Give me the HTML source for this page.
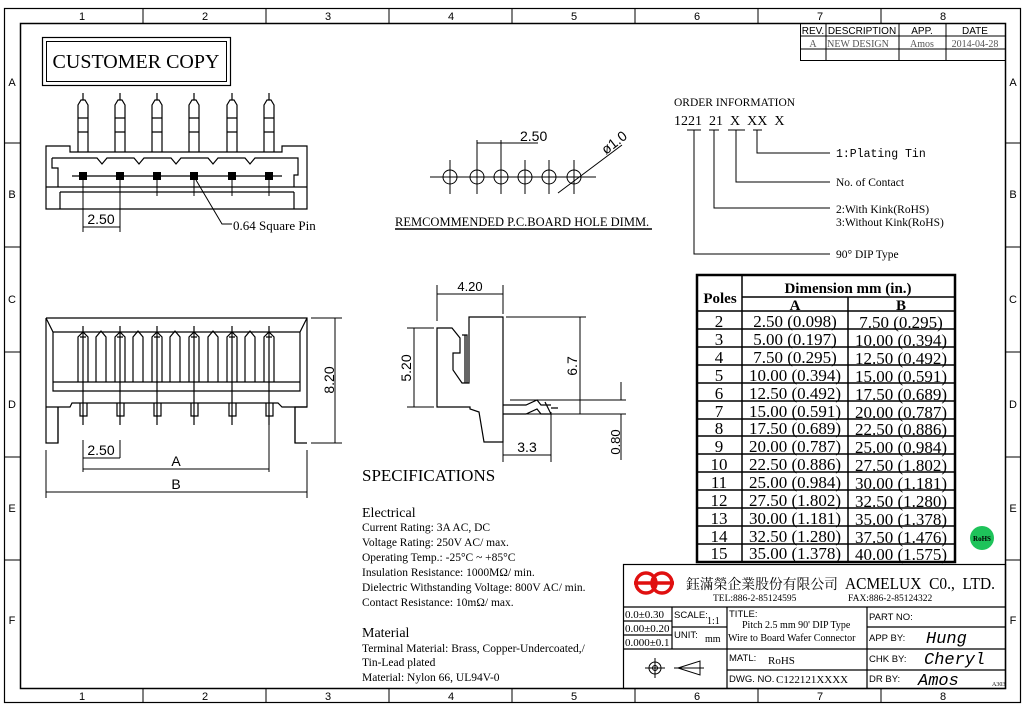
<!DOCTYPE html>
<html><head><meta charset="utf-8"><style>
body{margin:0;background:#fff}
svg{display:block}
.s{font-family:"Liberation Sans",sans-serif}
.r{font-family:"Liberation Serif","Noto Serif CJK SC",serif}
.m{font-family:"Liberation Mono",monospace}
</style></head><body>
<svg width="1024" height="706" viewBox="0 0 1024 706" xmlns="http://www.w3.org/2000/svg" fill="none" stroke="#000" stroke-width="1">
<!-- frame -->
<rect x="4.5" y="8.5" width="1016" height="694" stroke-width="1.2"/>
<rect x="20.5" y="23.5" width="985" height="665" stroke-width="1.5"/>
<g stroke-width="1">
<line x1="143" y1="8" x2="143" y2="23"/><line x1="266" y1="8" x2="266" y2="23"/><line x1="389" y1="8" x2="389" y2="23"/><line x1="512" y1="8" x2="512" y2="23"/><line x1="635" y1="8" x2="635" y2="23"/><line x1="758" y1="8" x2="758" y2="23"/><line x1="881" y1="8" x2="881" y2="23"/>
<line x1="143" y1="688" x2="143" y2="702"/><line x1="266" y1="688" x2="266" y2="702"/><line x1="389" y1="688" x2="389" y2="702"/><line x1="512" y1="688" x2="512" y2="702"/><line x1="635" y1="688" x2="635" y2="702"/><line x1="758" y1="688" x2="758" y2="702"/><line x1="881" y1="688" x2="881" y2="702"/>
<line x1="4" y1="143" x2="20" y2="143"/><line x1="4" y1="247" x2="20" y2="247"/><line x1="4" y1="352" x2="20" y2="352"/><line x1="4" y1="457" x2="20" y2="457"/><line x1="4" y1="560" x2="20" y2="560"/>
<line x1="1005" y1="143" x2="1020" y2="143"/><line x1="1005" y1="247" x2="1020" y2="247"/><line x1="1005" y1="352" x2="1020" y2="352"/><line x1="1005" y1="457" x2="1020" y2="457"/><line x1="1005" y1="560" x2="1020" y2="560"/>
</g>
<g class="s" fill="#000" stroke="none" font-size="11" text-anchor="middle">
<text x="82" y="20">1</text><text x="205" y="20">2</text><text x="328" y="20">3</text><text x="451" y="20">4</text><text x="574" y="20">5</text><text x="697" y="20">6</text><text x="820" y="20">7</text><text x="943" y="20">8</text>
<text x="82" y="700">1</text><text x="205" y="700">2</text><text x="328" y="700">3</text><text x="451" y="700">4</text><text x="574" y="700">5</text><text x="697" y="700">6</text><text x="820" y="700">7</text><text x="943" y="700">8</text>
<text x="12" y="86">A</text><text x="12" y="198">B</text><text x="12" y="303">C</text><text x="12" y="408">D</text><text x="12" y="512">E</text><text x="12" y="624">F</text>
<text x="1013" y="86">A</text><text x="1013" y="198">B</text><text x="1013" y="303">C</text><text x="1013" y="408">D</text><text x="1013" y="512">E</text><text x="1013" y="624">F</text>
</g>
<!-- revision table -->
<g stroke-width="1">
<rect x="800.5" y="23.5" width="205" height="37"/>
<line x1="800" y1="36" x2="1005" y2="36"/><line x1="800" y1="49" x2="1005" y2="49"/>
<line x1="826" y1="23" x2="826" y2="60"/><line x1="899" y1="23" x2="899" y2="60"/><line x1="946" y1="23" x2="946" y2="60"/>
</g>
<g fill="#000" stroke="none" font-size="10" text-anchor="middle">
<text class="s" x="813" y="34">REV.</text><text class="s" x="862" y="34">DESCRIPTION</text><text class="s" x="922" y="34">APP.</text><text class="s" x="975" y="34">DATE</text>
<text class="r" x="813" y="47" fill="#555">A</text><text class="r" x="858" y="47" fill="#555">NEW DESIGN</text><text class="r" x="922" y="47" fill="#555">Amos</text><text class="r" x="975" y="47" fill="#555">2014-04-28</text>
</g>
<!-- customer copy -->
<rect x="42.5" y="37.5" width="188" height="48" stroke-width="1.2"/>
<rect x="46.5" y="41.5" width="180" height="40"/>
<text class="r" x="136" y="68" font-size="20" fill="#000" stroke="none" text-anchor="middle">CUSTOMER COPY</text>
<!-- top view -->
<g stroke-width="1.2">
<g id="pin"><path d="M78,152 V105 L81,100 H85 L88,105 V152 M78,118 H88 M78,132 H88 M83,93 V100"/></g>
<use href="#pin" x="37"/><use href="#pin" x="74"/><use href="#pin" x="111"/><use href="#pin" x="149"/><use href="#pin" x="186"/>
<path d="M46,146 H70 V152 H282 V146 H307 V209 H46 Z"/>
<path d="M52,158 H97 L102,164 L107,158 H134 L139,164 L144,158 H171 L176,164 L181,158 H208 L213,164 L218,158 H245 L250,164 L255,158 H298 V175 H294 V187 M52,158 V168 H58 V187"/>
<line x1="72" y1="176" x2="282" y2="176"/>
<line x1="46" y1="187" x2="307" y2="187"/><line x1="60" y1="192" x2="294" y2="192"/>
<line x1="60" y1="192" x2="60" y2="209"/><line x1="294" y1="192" x2="294" y2="209"/>
</g>
<g fill="#000" stroke="none">
<rect x="79" y="172" width="8" height="8"/><rect x="116" y="172" width="8" height="8"/><rect x="153" y="172" width="8" height="8"/><rect x="190" y="172" width="8" height="8"/><rect x="228" y="172" width="8" height="8"/><rect x="265" y="172" width="8" height="8"/>
</g>
<g>
<line x1="83" y1="172" x2="83" y2="232"/><line x1="120" y1="172" x2="120" y2="232"/>
<line x1="157" y1="172" x2="157" y2="196"/><line x1="194" y1="172" x2="194" y2="196"/><line x1="232" y1="172" x2="232" y2="196"/><line x1="269" y1="172" x2="269" y2="196"/>
<line x1="83" y1="227" x2="120" y2="227"/>
<path d="M196,180 L222,224 H232"/>
</g>
<g fill="#000" stroke="none">
<text class="s" x="101" y="224" font-size="14" text-anchor="middle">2.50</text>
<text class="r" x="233" y="230" font-size="13">0.64 Square Pin</text>
</g>
<!-- front view -->
<g stroke-width="1.2">
<path d="M46,318 H307 V407 H295 V443 H307 M46,318 V443 H58 V407"/>
<path d="M58,443 V407 M295,407 V443"/>
<path d="M46,318 L53,332 H300 L307,318 M53,332 V382 H300 V332 M53,382 V391 H300 V382"/>
<path d="M46,407 H70 L72,403 H278 L282,407 H307"/>
<path d="M87,403 V416 H80 V403 M124,403 V416 H117 V403 M161,403 V416 H154 V403 M198,403 V416 H191 V403 M236,403 V416 H229 V403 M273,403 V416 H266 V403"/>
<path d="M78,382 V337 L83,332 L88,337 V382 M115,382 V337 L120,332 L125,337 V382 M152,382 V337 L157,332 L162,337 V382 M189,382 V337 L194,332 L199,337 V382 M227,382 V337 L232,332 L237,337 V382 M264,382 V337 L269,332 L274,337 V382"/>
<path d="M96,382 V337 L101,331 L106,337 V382 M133,382 V337 L138,331 L143,337 V382 M170,382 V337 L175,331 L180,337 V382 M208,382 V337 L213,331 L218,337 V382 M245,382 V337 L250,331 L255,337 V382"/>
<path d="M80,337 H86 M117,337 H123 M154,337 H160 M191,337 H197 M229,337 H235 M266,337 H272"/>
<path d="M83,326 V425 M120,326 V425 M157,326 V425 M194,326 V425 M232,326 V425 M269,326 V425"/>
</g>
<g>
<path d="M311,318 H342 M311,443 H342 M335,318 V443"/>
<path d="M83,440 V472 M120,440 V458 M269,420 V472 M46,450 V498 M307,450 V498"/>
<line x1="83" y1="458" x2="120" y2="458"/><line x1="83" y1="469" x2="269" y2="469"/><line x1="46" y1="492" x2="307" y2="492"/>
</g>
<g fill="#000" stroke="none" class="s" text-anchor="middle">
<text x="101" y="455" font-size="14">2.50</text>
<text x="176" y="466" font-size="14">A</text>
<text x="176" y="489" font-size="14">B</text>
<text x="334" y="380" font-size="14" transform="rotate(-90 334 380)">8.20</text>
</g>
<!-- hole dim -->
<g>
<line x1="430" y1="177" x2="596" y2="177"/>
<g id="h"><circle cx="450" cy="177" r="7"/><line x1="450" y1="160" x2="450" y2="194"/></g>
<use href="#h" x="27"/><use href="#h" x="51"/><use href="#h" x="75"/><use href="#h" x="99"/><use href="#h" x="124"/>
<line x1="477" y1="160" x2="477" y2="140"/><line x1="501" y1="160" x2="501" y2="140"/>
<line x1="477" y1="143" x2="538" y2="143"/>
<line x1="558" y1="193" x2="622" y2="145"/>
</g>
<g fill="#000" stroke="none" class="s">
<text x="520" y="141" font-size="14">2.50</text>
<text x="606" y="155" font-size="14" transform="rotate(-38 606 155)">ø1.0</text>
<text class="r" x="395" y="226" font-size="12.5">REMCOMMENDED P.C.BOARD HOLE DIMM.</text>
</g>
<line x1="395" y1="229" x2="652" y2="229" stroke-width="1.5"/>
<!-- order info -->
<g fill="#000" stroke="none" class="r">
<text x="674" y="106" font-size="11.5">ORDER INFORMATION</text>
<text x="674" y="125" font-size="14">1221&#160; 21&#160; X&#160; XX&#160; X</text>
<text x="836" y="157" font-size="11.5" class="m">1:Plating Tin</text>
<text x="836" y="186" font-size="11.5">No. of Contact</text>
<text x="836" y="213" font-size="11.5">2:With Kink(RoHS)</text>
<text x="836" y="226" font-size="11.5">3:Without Kink(RoHS)</text>
<text x="836" y="258" font-size="11.5">90° DIP Type</text>
</g>
<g>
<path d="M687,130 H701 M709,130 H719 M728,130 H745 M753,130 H762"/>
<path d="M757,130 V153 H830 M736,130 V182 H830 M714,130 V208 H830 M694,130 V254 H830"/>
</g>
<!-- side view -->
<g stroke-width="1.2">
<path d="M469,317 H503 V442 H484 L479,412 L470,409 V407 H437 V328 H452 L460,338 V353 H453 V370 L462,383 H469 Z"/>
<path d="M462,335 H467 V383 M465,335 V383"/>
<path d="M503,405 H526 L537,400 L541,405 H551 M503,414 H526 L537,409 L541,414 H551 L545,402 M551,408 H558"/>
</g>
<g>
<path d="M437,285 V321 M503,285 V314 M437,294 H503"/>
<path d="M407,328 H434 M407,407 H434 M414,328 V407"/>
<path d="M506,317 H586 M580,317 V414 M510,414 H626 M510,400 H626 M621,382 V400 M621,414 V460"/>
<path d="M503,420 V462 M551,412 V462 M503,455 H551"/>
</g>
<g fill="#000" stroke="none" class="s" text-anchor="middle">
<text x="470" y="291" font-size="13">4.20</text>
<text x="411" y="368" font-size="14" transform="rotate(-90 411 368)">5.20</text>
<text x="577" y="366" font-size="14" transform="rotate(-90 577 366)">6.7</text>
<text x="620" y="442" font-size="13" transform="rotate(-90 620 442)">0.80</text>
<text x="527" y="452" font-size="14">3.3</text>
</g>
<!-- specs -->
<g fill="#000" stroke="none" class="r">
<text x="362" y="481" font-size="17">SPECIFICATIONS</text>
<text x="362" y="517" font-size="14">Electrical</text>
<text x="362" y="531" font-size="11.5">Current Rating: 3A AC, DC</text>
<text x="362" y="546" font-size="11.5">Voltage Rating: 250V AC/ max.</text>
<text x="362" y="561" font-size="11.5">Operating Temp.: -25°C ~ +85°C</text>
<text x="362" y="576" font-size="11.5">Insulation Resistance: 1000MΩ/ min.</text>
<text x="362" y="591" font-size="11.5">Dielectric Withstanding Voltage: 800V AC/ min.</text>
<text x="362" y="606" font-size="11.5">Contact Resistance: 10mΩ/ max.</text>
<text x="362" y="637" font-size="14">Material</text>
<text x="362" y="652" font-size="11.5">Terminal Material: Brass, Copper-Undercoated,/</text>
<text x="362" y="666" font-size="11.5">Tin-Lead plated</text>
<text x="362" y="681" font-size="11.5">Material: Nylon 66, UL94V-0</text>
</g>
<!-- dimension table -->
<g stroke-width="1.5">
<rect x="697" y="275" width="258" height="287" stroke-width="2.5"/>
<line x1="742" y1="275" x2="742" y2="562"/><line x1="848" y1="297" x2="848" y2="562"/>
<line x1="742" y1="297" x2="955" y2="297"/><line x1="697" y1="311" x2="955" y2="311"/>
<path d="M697,329 H955 M697,347 H955 M697,365 H955 M697,383 H955 M697,401 H955 M697,419 H955 M697,436 H955 M697,454 H955 M697,472 H955 M697,490 H955 M697,508 H955 M697,526 H955 M697,544 H955"/>
</g>
<g fill="#000" stroke="none" class="r" font-size="17" text-anchor="middle">
<text x="720" y="303" font-weight="bold" font-size="15">Poles</text>
<text x="848" y="293" font-weight="bold" font-size="15">Dimension mm (in.)</text>
<text x="795" y="310" font-weight="bold" font-size="15">A</text><text x="901" y="310" font-weight="bold" font-size="15">B</text>
<text x="719" y="327">2</text><text x="795" y="327">2.50 (0.098)</text><text x="901" y="328">7.50 (0.295)</text>
<text x="719" y="345">3</text><text x="795" y="345">5.00 (0.197)</text><text x="901" y="346">10.00 (0.394)</text>
<text x="719" y="363">4</text><text x="795" y="363">7.50 (0.295)</text><text x="901" y="364">12.50 (0.492)</text>
<text x="719" y="381">5</text><text x="795" y="381">10.00 (0.394)</text><text x="901" y="382">15.00 (0.591)</text>
<text x="719" y="399">6</text><text x="795" y="399">12.50 (0.492)</text><text x="901" y="400">17.50 (0.689)</text>
<text x="719" y="417">7</text><text x="795" y="417">15.00 (0.591)</text><text x="901" y="418">20.00 (0.787)</text>
<text x="719" y="434">8</text><text x="795" y="434">17.50 (0.689)</text><text x="901" y="435">22.50 (0.886)</text>
<text x="719" y="452">9</text><text x="795" y="452">20.00 (0.787)</text><text x="901" y="453">25.00 (0.984)</text>
<text x="719" y="470">10</text><text x="795" y="470">22.50 (0.886)</text><text x="901" y="471">27.50 (1.802)</text>
<text x="719" y="488">11</text><text x="795" y="488">25.00 (0.984)</text><text x="901" y="489">30.00 (1.181)</text>
<text x="719" y="506">12</text><text x="795" y="506">27.50 (1.802)</text><text x="901" y="507">32.50 (1.280)</text>
<text x="719" y="524">13</text><text x="795" y="524">30.00 (1.181)</text><text x="901" y="525">35.00 (1.378)</text>
<text x="719" y="542">14</text><text x="795" y="542">32.50 (1.280)</text><text x="901" y="543">37.50 (1.476)</text>
<text x="719" y="559">15</text><text x="795" y="559">35.00 (1.378)</text><text x="901" y="560">40.00 (1.575)</text>
</g>
<circle cx="982" cy="538" r="12" fill="#1ec35a" stroke="none"/>
<text x="982" y="541" class="r" font-size="7" font-weight="bold" fill="#000" stroke="none" text-anchor="middle">RoHS</text>
<!-- title block -->
<g stroke-width="1.2">
<rect x="623.5" y="564.5" width="382" height="124"/>
<line x1="623" y1="607" x2="1005" y2="607"/>
<line x1="623" y1="621" x2="672" y2="621"/><line x1="623" y1="635" x2="672" y2="635"/>
<line x1="623" y1="649" x2="727" y2="649"/><line x1="672" y1="627" x2="727" y2="627"/>
<line x1="672" y1="607" x2="672" y2="649"/><line x1="727" y1="607" x2="727" y2="688"/><line x1="867" y1="607" x2="867" y2="688"/>
<line x1="727" y1="649" x2="1005" y2="649"/><line x1="727" y1="670" x2="1005" y2="670"/><line x1="867" y1="627" x2="1005" y2="627"/>
</g>
<g stroke="#e01010" stroke-width="3.5">
<circle cx="646" cy="583" r="10"/><circle cx="662" cy="583" r="10"/>
<line x1="634" y1="583" x2="674" y2="583"/>
</g>
<g fill="#000" stroke="none" class="r">
<text x="686" y="589" font-size="14" textLength="152" lengthAdjust="spacingAndGlyphs" font-family="'Noto Serif CJK SC',serif">鈺滿榮企業股份有限公司</text>
<text x="845" y="589" font-size="17" textLength="150" lengthAdjust="spacingAndGlyphs">ACMELUX&#160; C0.,&#160; LTD.</text>
<text x="713" y="601" font-size="9.5">TEL:886-2-85124595</text>
<text x="848" y="601" font-size="9.5">FAX:886-2-85124322</text>
<text x="625" y="618" font-size="11">0.0±0.30</text>
<text x="625" y="632" font-size="11">0.00±0.20</text>
<text x="625" y="646" font-size="11">0.000±0.1</text>
<text x="742" y="628" font-size="10">Pitch 2.5 mm 90' DIP Type</text>
<text x="728" y="641" font-size="10">Wire to Board Wafer Connector</text>
<text x="768" y="664" font-size="11">RoHS</text>
<text x="776" y="683" font-size="11">C122121XXXX</text>
<text x="707" y="624" font-size="10">1:1</text>
<text x="705" y="642" font-size="10">mm</text>
<text x="992" y="686" font-size="6">A303</text>
</g>
<g fill="#000" stroke="none" class="s" font-size="9.5">
<text x="674" y="618">SCALE:</text><text x="674" y="638">UNIT:</text>
<text x="729" y="617">TITLE:</text><text x="729" y="661">MATL:</text><text x="729" y="682">DWG. NO.</text>
<text x="869" y="620">PART NO:</text><text x="869" y="641">APP BY:</text><text x="869" y="662">CHK BY:</text><text x="869" y="682">DR BY:</text>
</g>
<g fill="#000" stroke="none" class="m" font-style="italic" font-size="17">
<text x="926" y="643">Hung</text><text x="924" y="664">Cheryl</text><text x="918" y="685">Amos</text>
</g>
<g>
<circle cx="655" cy="668" r="6"/><circle cx="655" cy="668" r="2.5"/>
<line x1="645" y1="668" x2="665" y2="668"/><line x1="655" y1="658" x2="655" y2="678"/>
<path d="M678,668 L700,661 V675 Z M674,668 H704 M700,661 V675"/>
</g>
</svg>
</body></html>
